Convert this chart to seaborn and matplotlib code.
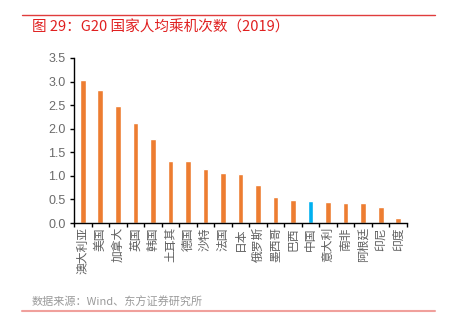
import matplotlib
matplotlib.use("Agg")
import matplotlib.pyplot as plt
import seaborn as sns
import pandas as pd
from matplotlib.lines import Line2D
from matplotlib.ticker import FixedLocator, MultipleLocator

countries = ["澳大利亚", "美国", "加拿大", "英国", "韩国", "土耳其", "德国", "沙特", "法国", "日本",
             "俄罗斯", "墨西哥", "巴西", "中国", "意大利", "南非", "阿根廷", "印尼", "印度"]
trips = [3.03, 2.82, 2.48, 2.12, 1.78, 1.32, 1.31, 1.15, 1.06, 1.03,
         0.80, 0.55, 0.48, 0.47, 0.45, 0.43, 0.42, 0.33, 0.11]
highlight = "中国"

title = "图 29：G20 国家人均乘机次数（2019）"
source = "数据来源：Wind、东方证券研究所"

sns.set_style("white")
plt.rcParams['font.family'] = ['Noto Sans CJK SC', 'DejaVu Sans']

df = pd.DataFrame({"country": countries, "value": trips})
palette = {c: ("#00B0F0" if c == highlight else "#ED7D31") for c in countries}

fig = plt.figure(figsize=(4.5, 3.28), dpi=100)
ax = fig.add_axes([74/450, 1-223/328, 333/450, 165/328])
sns.barplot(data=df, x="country", y="value", hue="country", palette=palette,
            width=0.32, legend=False, ax=ax, saturation=1)

ax.set_xlim(-0.5, len(countries) - 0.5)
ax.set_ylim(0, 3.5)
ax.yaxis.set_major_locator(MultipleLocator(0.5))
ax.set_yticklabels([f"{v:.1f}" for v in ax.get_yticks()], family=["Liberation Sans", "DejaVu Sans"])
ax.set_xlabel("")
ax.set_ylabel("")
for s in ["top", "right"]:
    ax.spines[s].set_visible(False)
for s in ["left", "bottom"]:
    ax.spines[s].set_color("black")
    ax.spines[s].set_linewidth(1.0)

ax.tick_params(axis="y", which="major", direction="out", length=3, width=1, color="black",
               labelsize=9, labelcolor="#6b6b6b", pad=3, left=True)
ax.tick_params(axis="x", which="major", length=0, labelsize=8.5, labelcolor="#5f5f5f", pad=3,
               labelrotation=90, bottom=True)
ax.xaxis.set_minor_locator(FixedLocator([i - 0.5 for i in range(len(countries) + 1)]))
ax.tick_params(axis="x", which="minor", direction="out", length=3, width=1, color="black", bottom=True)

fig.add_artist(Line2D([22/450, 435/450], [1-15/328, 1-15/328], color="#E03C3C", lw=1.0))
fig.text(32/450, 1-27/328, title, color="#E02020", fontsize=10.5, va="center", ha="left")
fig.text(32/450, 1-302/328, source, color="#9A9A9A", fontsize=8, va="center", ha="left")
fig.add_artist(Line2D([22/450, 435/450], [1-311/328, 1-311/328], color="#F0A09C", lw=1.5))

fig.savefig("out.png", dpi=100)
